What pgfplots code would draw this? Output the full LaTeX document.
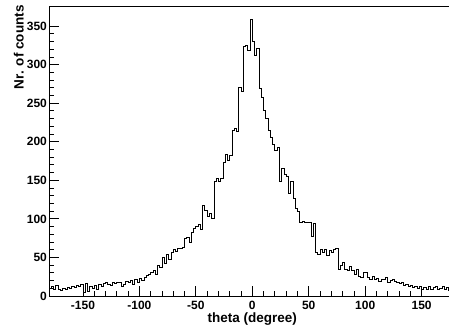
\documentclass[border=0pt]{standalone}
\usepackage{fontspec}
\setmainfont{Liberation Sans}
\usepackage{pgfplots}
\pgfplotsset{compat=1.18}
\begin{document}
\begin{tikzpicture}
\begin{axis}[
  scale only axis, width=406.4pt, height=290pt,
  xmin=-180, xmax=180, ymin=0, ymax=376,
  xtick={-150,-100,...,150}, ytick={0,50,...,350},
  minor x tick num=4, minor y tick num=4,
  tick pos=left, tick align=inside,
  major tick length=10pt, minor tick length=5pt,
  every tick/.style={black, line width=0.8pt},
  axis line style={line width=0.9pt},
  /pgf/number format/assume math mode=true,
  /pgf/number format/1000 sep={},
  ticklabel style={font=\fontsize{12}{14}\selectfont\bfseries},
  xticklabel style={inner sep=0pt, yshift=-5pt},
  yticklabel style={inner sep=0pt, xshift=-2pt},
  xlabel={theta (degree)}, ylabel={Nr. of counts},
  every axis x label/.style={at={(rel axis cs:0.61,-0.058)}, anchor=north east, inner sep=0pt, font=\fontsize{13.5}{16}\selectfont\bfseries},
  every axis y label/.style={at={(rel axis cs:-0.062,1.003)}, rotate=90, anchor=south east, inner sep=0pt, font=\fontsize{13.5}{16}\selectfont\bfseries},
]
\addplot[const plot, black, line width=0.8pt] table {
x y
-180 10
-178 12
-176 8
-174 14
-172 9
-170 7
-168 10
-166 9
-164 11
-162 10
-160 12
-158 11
-156 14
-154 13
-152 15
-150 5
-148 16
-146 6
-144 12
-142 10
-140 14
-138 9
-136 15
-134 13
-132 16
-130 18
-128 15
-126 14
-124 17
-122 16
-120 18
-118 17
-116 12
-114 15
-112 19
-110 17
-108 20
-106 15
-104 21
-102 18
-100 23
-98 20
-96 24
-94 27
-92 28
-90 30
-88 33
-86 28
-84 40
-82 37
-80 50
-78 42
-76 54
-74 47
-72 56
-70 60
-68 58
-66 62
-64 62
-62 63
-60 75
-58 76
-56 70
-54 82
-52 88
-50 90
-48 93
-46 86
-44 118
-42 111
-40 103
-38 107
-36 101
-34 148
-32 152
-30 148
-28 152
-26 173
-24 183
-22 176
-20 182
-18 215
-16 217
-14 213
-12 271
-10 265
-8 323
-6 325
-4 318
-2 358
0 330
2 312
4 321
6 269
8 258
10 241
12 230
14 215
16 205
18 197
20 189
22 193
24 148
26 165
28 158
30 155
32 133
34 148
36 127
38 113
40 110
42 95
44 97
46 95
48 96
50 95
52 77
54 94
56 56
58 54
60 60
62 57
64 60
66 53
68 59
70 57
72 61
74 62
76 35
78 40
80 44
82 34
84 33
86 38
88 33
90 28
92 34
94 26
96 24
98 31
100 30
102 24
104 22
106 25
108 21
110 23
112 19
114 22
116 21
118 24
120 18
122 20
124 22
126 19
128 18
130 16
132 17
134 14
136 15
138 12
140 14
142 11
144 13
146 10
148 12
150 9
152 11
154 8
156 12
158 9
160 11
162 13
164 8
166 10
168 12
170 9
172 11
174 7
176 10
178 10
180 10
};
\end{axis}
\pgfresetboundingbox
\path (-49.1pt,-33pt) rectangle (399.9pt,296pt);
\end{tikzpicture}
\end{document}
